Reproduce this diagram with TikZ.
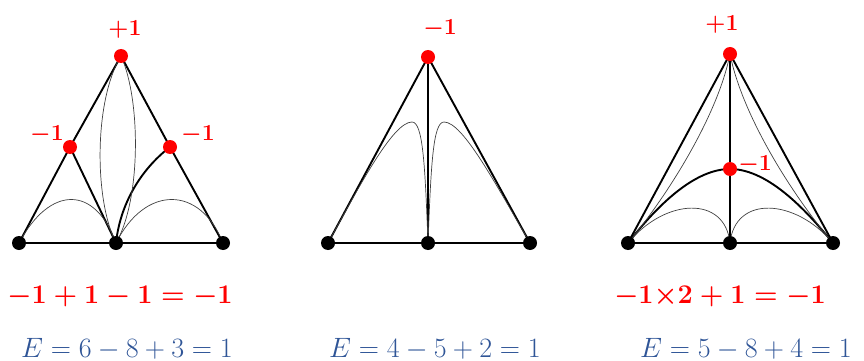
\documentclass[tikz,border=0pt]{standalone}
\usepackage{fix-cm}
\usepackage{amsmath}
\definecolor{eulerblue}{RGB}{47,85,151}
\definecolor{chargered}{RGB}{255,0,0}

\begin{document}
\begin{tikzpicture}[x=1pt, y=-1pt,
    edge/.style={line width=1.9pt, line cap=round},
    thinedge/.style={line width=0.7pt, black!75},
    blackdot/.style={circle, fill=black, inner sep=0pt, minimum size=14pt},
    reddot/.style={circle, fill=chargered, inner sep=0pt, minimum size=14pt},
    charge/.style={text=chargered, font=\fontsize{23}{27}\selectfont\boldmath, inner sep=0pt},
    sumtext/.style={text=chargered, font=\fontsize{27}{32}\selectfont\boldmath, inner sep=0pt, anchor=base},
    eulertext/.style={text=eulerblue, font=\fontsize{28}{34}\selectfont, inner sep=0pt, anchor=base}]
    \useasboundingbox (0,0) rectangle (864,361);

    % Vertices:
    \coordinate (a1) at (19,243);  \coordinate (a2) at (116,243); \coordinate (a3) at (223,243);
    \coordinate (at) at (121,56);  \coordinate (al) at (70,147);  \coordinate (ar) at (170,147);
    \coordinate (b1) at (328,243); \coordinate (b2) at (428,243); \coordinate (b3) at (530,243);
    \coordinate (bt) at (428,57);
    \coordinate (c1) at (628,243); \coordinate (c2) at (730,243); \coordinate (c3) at (833,243);
    \coordinate (ct) at (730,54);  \coordinate (cm) at (730,169);

    % First triangle:
    \draw[edge] (a1) -- (a3);
    \draw[edge] (a1) -- (al) -- (at) -- (ar) -- (a3);
    \draw[edge] (al) -- (a2);
    \draw[edge] (ar) .. controls (140,170) and (120,205) .. (a2);
    \draw[thinedge] (at) .. controls (94,100) and (94,200) .. (a2);
    \draw[thinedge] (at) .. controls (141,100) and (141,200) .. (a2);
    \draw[thinedge] (a1) .. controls (50,185) and (95,185) .. (a2);
    \draw[thinedge] (a2) .. controls (145,185) and (200,185) .. (a3);

    % Second triangle:
    \draw[edge] (b1) -- (b3);
    \draw[edge] (b1) -- (bt) -- (b3);
    \draw[edge] (bt) -- (b2);
    \draw[thinedge] (b1) .. controls (360,185) and (393,122) .. (412,122)
                         .. controls (423,122) and (425,165) .. (b2);
    \draw[thinedge] (b2) .. controls (431,165) and (433,122) .. (444,122)
                         .. controls (463,122) and (496,185) .. (b3);

    % Third triangle:
    \draw[edge] (c1) -- (c3);
    \draw[edge] (c1) -- (ct) -- (c3);
    \draw[edge] (ct) -- (cm) -- (c2);
    \draw[edge] (c1) .. controls (650,215) and (690,169) .. (cm)
                     .. controls (770,169) and (810,215) .. (c3);
    \draw[thinedge] (ct) .. controls (718,115) and (668,195) .. (c1);
    \draw[thinedge] (ct) .. controls (742,115) and (792,195) .. (c3);
    \draw[thinedge] (c1) .. controls (665,198) and (725,195) .. (c2);
    \draw[thinedge] (c2) .. controls (735,195) and (795,198) .. (c3);

    % Dots:
    \foreach \v in {a1,a2,a3,b1,b2,b3,c1,c2,c3}
        \node[blackdot] (dot-\v) at (\v) {};
    \foreach \v in {at,al,ar,bt,ct,cm}
        \node[reddot] (dot-\v) at (\v) {};

    % Charges:
    \node[charge] (q-at) at (125,30) {$+1$};
    \node[charge] (q-al) at (47,135) {$-1$};
    \node[charge] (q-ar) at (198,135) {$-1$};
    \node[charge] (q-bt) at (440,29) {$-1$};
    \node[charge] (q-ct) at (722,25) {$+1$};
    \node[charge] (q-cm) at (755,165) {$-1$};

    % Sums:
    \node[sumtext] (sum-a) at (120,303) {$-1+1-1=-1$};
    \node[sumtext] (sum-c) at (720,303) {$-1{\times}2+1=-1$};
    \node[eulertext] (euler-a) at (127,357) {$E=6-8+3=1$};
    \node[eulertext] (euler-b) at (435,357) {$E=4-5+2=1$};
    \node[eulertext] (euler-c) at (746,357) {$E=5-8+4=1$};
\end{tikzpicture}
\end{document}
